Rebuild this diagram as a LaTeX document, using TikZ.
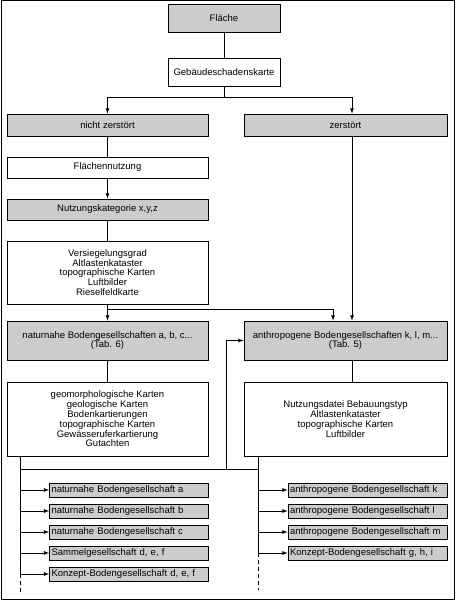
\documentclass[tikz,border=0pt]{standalone}
\usepackage{fontspec}
\setmainfont{Liberation Sans}
\usepackage{tikz}
\usetikzlibrary{positioning}
\usetikzlibrary{calc}
\definecolor{boxgray}{RGB}{204,204,204}
\tikzset{
  box/.style={draw, rectangle, line width=0.8pt, inner sep=1pt, align=center,
    font=\fontsize{9.5}{9.8}\selectfont},
  graybox/.style={box, fill=boxgray},
  smallbox/.style={draw, rectangle, line width=0.8pt, fill=boxgray, minimum height=14pt,
    text width=155pt, inner xsep=2pt, inner ysep=0pt, align=left,
    font=\fontsize{9.5}{9.8}\selectfont},
  line/.style={line width=0.8pt},
  arr/.style={-latex, line width=0.8pt},
}
\begin{document}
\begin{tikzpicture}[x=1pt,y=-1pt]
  \useasboundingbox (0,0) rectangle (455,601);
  \draw[line width=1pt] (1,1) rectangle (454,599);

  \node[graybox, minimum width=112pt, minimum height=28pt] (flaeche) at (224,18) {Fläche};
  \node[box, minimum width=112pt, minimum height=28pt] (gsk) at (224,72) {Gebäudeschadenskarte};
  \node[graybox, minimum width=201pt, minimum height=22pt] (nicht) at (107.5,125) {nicht zerstört};
  \node[graybox, minimum width=203pt, minimum height=22pt] (zerst) at (345.5,125) {zerstört};
  \node[box, minimum width=201pt, minimum height=21pt] (flnutz) at (107.5,167.5) {Flächennutzung};
  \node[graybox, minimum width=201pt, minimum height=21pt] (nutzkat) at (107.5,209.5) {Nutzungskategorie x,y,z};
  \node[box, minimum width=201pt, minimum height=63pt] (versieg) at (107.5,272.5)
    {Versiegelungsgrad\\Altlastenkataster\\topographische Karten\\Luftbilder\\Rieselfeldkarte};
  \node[graybox, minimum width=201pt, minimum height=39pt] (natur) at (107.5,340.5)
    {naturnahe Bodengesellschaften a, b, c...\\(Tab. 6)};
  \node[graybox, minimum width=203pt, minimum height=39pt] (anthro) at (345.5,340.5)
    {anthropogene Bodengesellschaften k, l, m...\\(Tab. 5)};
  \node[box, minimum width=201pt, minimum height=74pt] (geomorph) at (107.5,419)
    {geomorphologische Karten\\geologische Karten\\Bodenkartierungen\\topographische Karten\\Gewässeruferkartierung\\Gutachten};
  \node[box, minimum width=203pt, minimum height=74pt] (nutzdat) at (345.5,419)
    {Nutzungsdatei Bebauungstyp\\Altlastenkataster\\topographische Karten\\Luftbilder};

  % Bodengesellschaften, links
  \node[smallbox] (nba) at (129,490) {naturnahe Bodengesellschaft a};
  \node[smallbox] (nbb) at (129,511) {naturnahe Bodengesellschaft b};
  \node[smallbox] (nbc) at (129,532) {naturnahe Bodengesellschaft c};
  \node[smallbox] (sgs) at (129,553) {Sammelgesellschaft d, e, f};
  \node[smallbox] (kzl) at (129,574) {Konzept-Bodengesellschaft d, e, f};
  % Bodengesellschaften, rechts
  \node[smallbox] (abk) at (367.5,490) {anthropogene Bodengesellschaft k};
  \node[smallbox] (abl) at (367.5,511) {anthropogene Bodengesellschaft l};
  \node[smallbox] (abm) at (367.5,532) {anthropogene Bodengesellschaft m};
  \node[smallbox] (kzr) at (367.5,553) {Konzept-Bodengesellschaft g, h, i};

  \coordinate (fork) at (224,97);
  \coordinate (rc) at (352,0);
  \coordinate (mc) at (333,309);
  \coordinate (lb) at (20,469);
  \coordinate (mb) at (226,469);
  \coordinate (rb) at (258,469);
  \coordinate (lend) at (20,593);
  \coordinate (rend) at (258,590);

  \draw[line] (flaeche) -- (gsk);
  \draw[line] (gsk) -- (fork);
  \draw[arr] (fork) -| (nicht.north);
  \draw[arr] (fork) -| (zerst.north -| rc);

  \draw[line] (nicht) -- (flnutz);
  \draw[arr] (flnutz) -- (nutzkat);
  \draw[line] (nutzkat) -- (versieg);
  \draw[arr] (versieg) -- (natur);
  \draw[arr] (versieg.south |- mc) -- (mc) -- (anthro.north -| mc);
  \draw[arr] (zerst.south -| rc) -- (anthro.north -| rc);

  \draw[line] (natur) -- (geomorph);
  \draw[line] (anthro.south -| rc) -- (nutzdat.north -| rc);

  \draw[line] (geomorph.south -| lb) -- (lb) -- (rb);
  \draw[arr] (mb) |- (anthro.west);
  \draw[line] (lb) -- (lb |- kzl.west);
  \draw[line, dash pattern=on 4pt off 3pt] (lb |- kzl.west) -- (lend);
  \draw[line] (nutzdat.south -| rb) -- (rb |- kzr.west);
  \draw[line, dash pattern=on 4pt off 3pt] (rb |- kzr.west) -- (rend);

  \foreach \n in {nba, nbb, nbc, sgs, kzl}
    \draw[arr] (lb |- \n.west) -- (\n.west);
  \foreach \n in {abk, abl, abm, kzr}
    \draw[arr] (rb |- \n.west) -- (\n.west);
\end{tikzpicture}
\end{document}
